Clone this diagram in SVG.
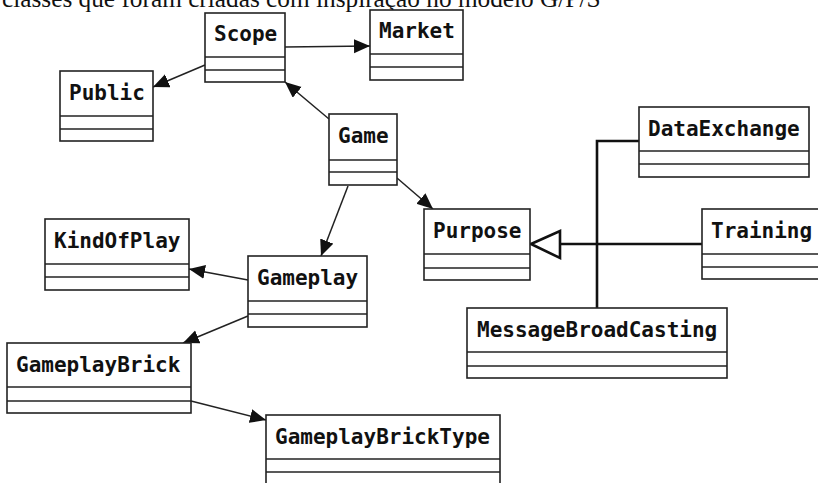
<svg xmlns="http://www.w3.org/2000/svg" width="818" height="483" viewBox="0 0 818 483">
<style>
.box rect{fill:#fff;stroke:#222;stroke-width:1.6}
.box line{stroke:#222;stroke-width:1.6}
.box text{font-family:"DejaVu Sans Mono","Liberation Mono",monospace;font-weight:bold;font-size:21px;fill:#111}
.assoc{stroke:#222;stroke-width:1.5;fill:none;marker-end:url(#ah)}
.gen{stroke:#111;stroke-width:2.6;fill:none}
.caption{font-family:"Liberation Serif","Times New Roman",serif;font-size:25.3px;fill:#111}
</style>
<defs>
<marker id="ah" markerUnits="userSpaceOnUse" markerWidth="17" markerHeight="15" refX="16" refY="7" orient="auto">
<path d="M0,0 L16,7 L0,14 z" fill="#111"/>
</marker>
</defs>
<rect width="818" height="483" fill="#fff"/>
<text class="caption" x="2" y="7">classes que foram criadas com inspiração no modelo G/P/S</text>

<g id="connectors">
<line class="assoc" x1="285" y1="47" x2="370" y2="46"/>
<line class="assoc" x1="205" y1="65" x2="153" y2="87"/>
<line class="assoc" x1="329" y1="119" x2="285" y2="82"/>
<line class="assoc" x1="397" y1="178" x2="433" y2="209"/>
<line class="assoc" x1="348" y1="186" x2="321" y2="256"/>
<line class="assoc" x1="248" y1="280" x2="189" y2="269"/>
<line class="assoc" x1="248" y1="316" x2="183" y2="343"/>
<line class="assoc" x1="191" y1="401" x2="266" y2="420"/>
<path class="gen" d="M560,244 L702,244"/>
<path class="gen" d="M639,141 L597,141 L597,308"/>
<polygon points="531,244 560,231 560,258" fill="#fff" stroke="#111" stroke-width="2.6"/>
</g>

<g id="Scope" class="box"><rect x="205" y="13" width="80" height="69"/><line x1="205" y1="57" x2="285" y2="57"/><line x1="205" y1="70" x2="285" y2="70"/><text x="214" y="41">Scope</text></g>
<g id="Market" class="box"><rect x="370" y="10" width="93" height="70"/><line x1="370" y1="54" x2="463" y2="54"/><line x1="370" y1="67" x2="463" y2="67"/><text x="379" y="38">Market</text></g>
<g id="Public" class="box"><rect x="60" y="71" width="93" height="70"/><line x1="60" y1="116" x2="153" y2="116"/><line x1="60" y1="129" x2="153" y2="129"/><text x="69" y="100">Public</text></g>
<g id="Game" class="box"><rect x="329" y="114" width="68" height="71"/><line x1="329" y1="160" x2="397" y2="160"/><line x1="329" y1="172" x2="397" y2="172"/><text x="338" y="143">Game</text></g>
<g id="Purpose" class="box"><rect x="424" y="209" width="106" height="71"/><line x1="424" y1="254" x2="530" y2="254"/><line x1="424" y1="268" x2="530" y2="268"/><text x="433" y="238">Purpose</text></g>
<g id="DataExchange" class="box"><rect x="639" y="107" width="170" height="70"/><line x1="639" y1="151" x2="809" y2="151"/><line x1="639" y1="164" x2="809" y2="164"/><text x="648" y="136">DataExchange</text></g>
<g id="Training" class="box"><rect x="702" y="209" width="125" height="70"/><line x1="702" y1="254" x2="827" y2="254"/><line x1="702" y1="267" x2="827" y2="267"/><text x="711" y="238">Training</text></g>
<g id="MessageBroadCasting" class="box"><rect x="467" y="308" width="260" height="70"/><line x1="467" y1="352" x2="727" y2="352"/><line x1="467" y1="366" x2="727" y2="366"/><text x="477" y="337">MessageBroadCasting</text></g>
<g id="KindOfPlay" class="box"><rect x="45" y="219" width="144" height="71"/><line x1="45" y1="264" x2="189" y2="264"/><line x1="45" y1="277" x2="189" y2="277"/><text x="54" y="248">KindOfPlay</text></g>
<g id="Gameplay" class="box"><rect x="248" y="256" width="119" height="71"/><line x1="248" y1="301" x2="367" y2="301"/><line x1="248" y1="314" x2="367" y2="314"/><text x="257" y="285">Gameplay</text></g>
<g id="GameplayBrick" class="box"><rect x="7" y="343" width="184" height="70"/><line x1="7" y1="387" x2="191" y2="387"/><line x1="7" y1="401" x2="191" y2="401"/><text x="16" y="372">GameplayBrick</text></g>
<g id="GameplayBrickType" class="box"><rect x="266" y="415" width="234" height="80"/><line x1="266" y1="459" x2="500" y2="459"/><line x1="266" y1="472" x2="500" y2="472"/><text x="275" y="444">GameplayBrickType</text></g>
</svg>
